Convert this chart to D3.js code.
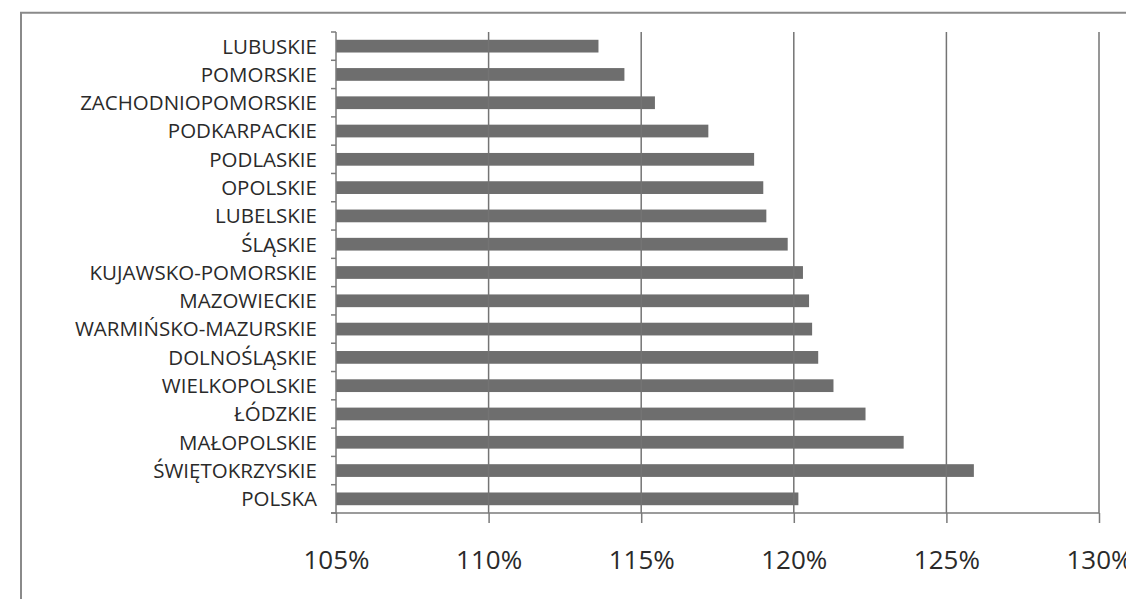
<!DOCTYPE html>
<html>
<head>
<meta charset="utf-8">
<script src="https://cdn.jsdelivr.net/npm/d3@7"></script>
<style>
html,body{margin:0;padding:0;background:#fff;}
svg{display:block;}
</style>
</head>
<body>
<script>
const categories = ["LUBUSKIE","POMORSKIE","ZACHODNIOPOMORSKIE","PODKARPACKIE","PODLASKIE","OPOLSKIE","LUBELSKIE","ŚLĄSKIE","KUJAWSKO-POMORSKIE","MAZOWIECKIE","WARMIŃSKO-MAZURSKIE","DOLNOŚLĄSKIE","WIELKOPOLSKIE","ŁÓDZKIE","MAŁOPOLSKIE","ŚWIĘTOKRZYSKIE","POLSKA"];
const values = [113.6,114.45,115.45,117.2,118.7,119.0,119.1,119.8,120.3,120.5,120.6,120.8,121.3,122.35,123.6,125.9,120.15];
const xTicks = [105,110,115,120,125,130];
const xTickLabels = ["105%","110%","115%","120%","125%","130%"];

const W = 1126, H = 599;
const svg = d3.select("body").append("svg").attr("width", W).attr("height", H);

// frame
svg.append("path")
  .attr("d", `M21,${H+5} L21,12.7 L${W+5},12.7`)
  .attr("fill","none").attr("stroke","#8a8a8a").attr("stroke-width",2);

const x = d3.scaleLinear().domain([105,130]).range([336,1099]);
const y = d3.scaleBand().domain(categories).range([32,513]).paddingInner(0.55).paddingOuter(0.275);

// bars
svg.append("g").selectAll("rect").data(categories).join("rect")
  .attr("x", x(105))
  .attr("y", d => y(d))
  .attr("width", (d,i) => x(values[i]) - x(105))
  .attr("height", y.bandwidth())
  .attr("fill","#6e6e6e");

// gridlines
svg.append("g").selectAll("line").data(xTicks.slice(1)).join("line")
  .attr("x1", d => x(d)).attr("x2", d => x(d))
  .attr("y1", 32).attr("y2", 513)
  .attr("stroke","#747474").attr("stroke-width",1.5);

// x axis
const xAxis = d3.axisBottom(x).tickValues(xTicks).tickSize(10).tickFormat((d,i) => xTickLabels[i]);
const gx = svg.append("g").attr("transform","translate(0,513)").call(xAxis);
gx.select(".domain").attr("stroke","#7a7a7a").attr("stroke-width",1.5).attr("d", `M331,0H${x(130)}`);
gx.selectAll(".tick line").attr("stroke","#7a7a7a").attr("stroke-width",1.5);
gx.selectAll(".tick text").attr("y",56).attr("dy",0)
  .attr("font-family","'Open Sans', sans-serif").attr("font-size",26).attr("fill","#2a2a2a");

// y axis line + boundary ticks
const gy = svg.append("g");
gy.append("line").attr("x1",x(105)).attr("x2",x(105)).attr("y1",32).attr("y2",513)
  .attr("stroke","#7a7a7a").attr("stroke-width",1.5);
const bounds = categories.map(c => y(c) + y.bandwidth()/2 - y.step()/2);
bounds.push(y(categories[categories.length-1]) + y.bandwidth()/2 + y.step()/2);
gy.selectAll(".bt").data(bounds).join("line").attr("class","bt")
  .attr("x1", x(105)-5).attr("x2", x(105)).attr("y1", d=>d).attr("y2", d=>d)
  .attr("stroke","#7a7a7a").attr("stroke-width",1.5);
gy.selectAll("text").data(categories).join("text")
  .attr("x", x(105) - 19)
  .attr("y", d => y(d) + y.bandwidth()/2)
  .attr("dy","0.36em")
  .attr("text-anchor","end")
  .attr("font-family","'Open Sans', sans-serif").attr("font-size",20.5).attr("fill","#2a2a2a")
  .text(d => d);
</script>
</body>
</html>
